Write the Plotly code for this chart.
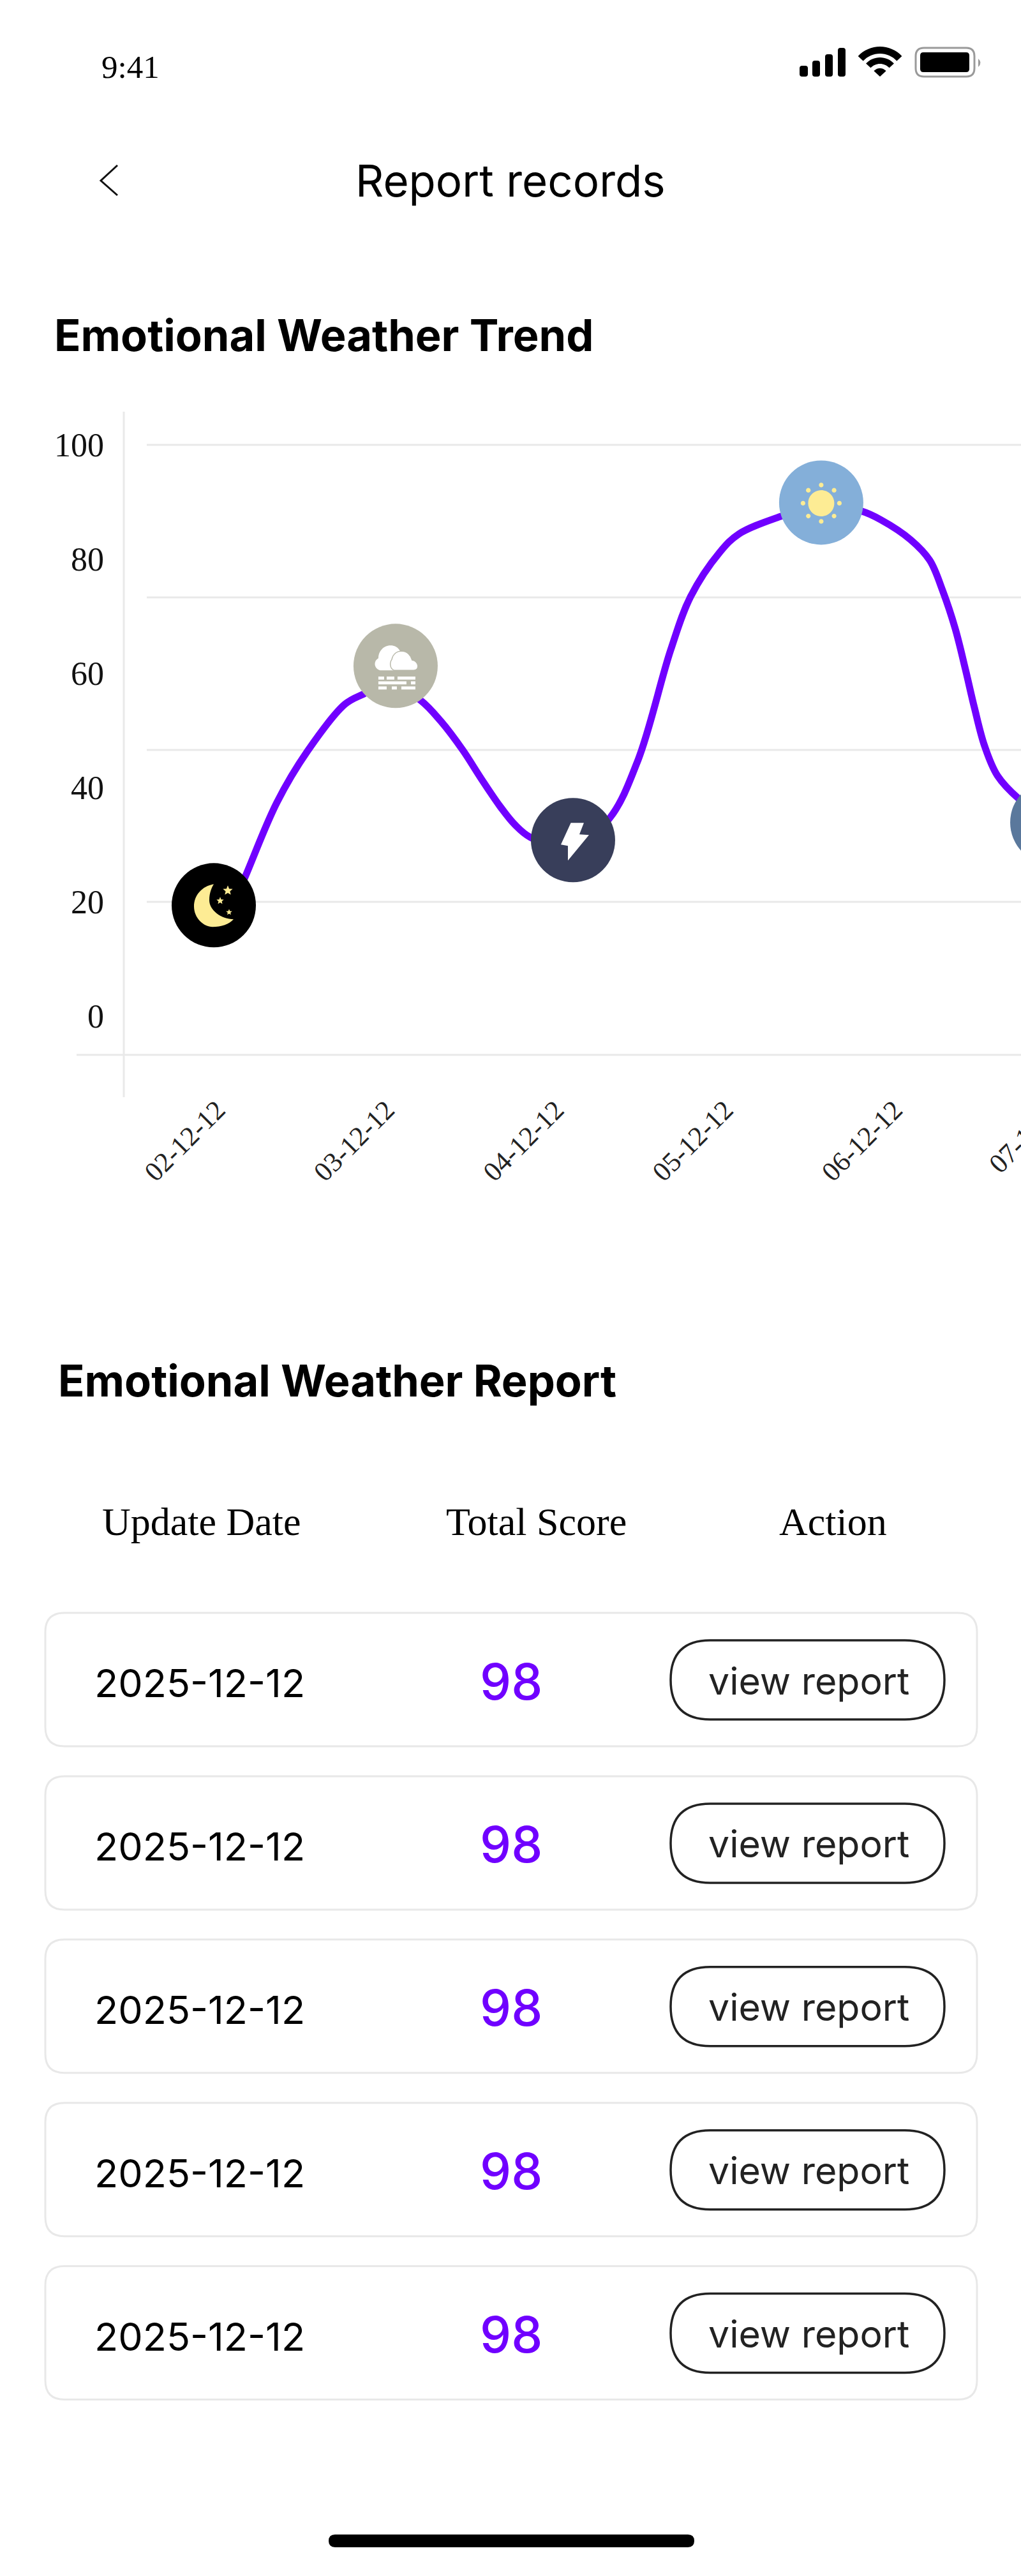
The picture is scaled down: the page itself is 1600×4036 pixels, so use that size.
import math
import plotly.graph_objects as go

W, H = 1600, 4036

# ---------- data ----------
tick_positions = [0.02, 1.02, 2.02, 3.02, 4.02]
tick_labels = ["02-12-12", "03-12-12", "04-12-12", "05-12-12", "06-12-12"]
clipped_tick_label = "07-12-12"
y_ticks = [0, 20, 40, 60, 80, 100]
grid_values = [100, 73.3, 46.6, 20, -6.8]

curve_x = [.08, .19, .373, .554, .775, .886, 1.04, 1.221, 1.342, 1.47, 1.579, 1.689,
           1.779, 1.87, 2.111, 2.337, 2.507, 2.699, 2.816, 2.989, 3.102, 3.351, 3.588,
           3.826, 3.939, 4.116, 4.229, 4.305, 4.38, 4.44, 4.493, 4.553, 4.629, 4.757, 4.953]
curve_y = [17.0, 24.7, 37.4, 46.4, 54.6, 56.4, 58.3, 55.3, 51.6, 46.6, 41.6, 36.8,
           33.5, 31.3, 29.3, 34.6, 44.9, 64.1, 73.4, 81.2, 84.4, 87.5, 89.6,
           88.4, 86.9, 83.4, 79.8, 74.5, 67.8, 60.7, 54.0, 47.3, 42.1, 38.0, 33.9]

marker_x = [0, 1.074, 2.122, 3.588, 4.953]
marker_y = [19.4, 61.3, 30.8, 89.9, 33.9]
marker_colors = ["#000000", "#b8b8a9", "#383e5a", "#84afd9", "#5a789c"]

header_labels = ["Update Date", "Total Score", "Action"]
report_dates = ["2025-12-12"] * 5
report_scores = [98] * 5
report_action = "view report"

# ---------- colours / placement ----------
PURPLE = "#7000ff"
GRID = "#e9e9e9"
MOON = "#fdec94"
UI = "Inter"
SERIF = "Liberation Serif"

px = lambda x: x / W
py = lambda y: 1 - y / H

def P(x, y):
    return f"{px(x):.6f},{py(y):.6f}"

shapes, annotations = [], []

def text(x, y, s, size, family=UI, color="#000000", anchor="left", weight=400):
    annotations.append(dict(x=px(x), y=py(y), xref="paper", yref="paper", text=s, showarrow=False,
                            xanchor=anchor, yanchor="middle", borderpad=0,
                            font=dict(family=family, size=size, color=color, weight=weight)))

def rrect(x0, y0, x1, y1, r):
    return (f"M{P(x0+r,y0)} L{P(x1-r,y0)} Q{P(x1,y0)} {P(x1,y0+r)} L{P(x1,y1-r)} Q{P(x1,y1)} {P(x1-r,y1)} "
            f"L{P(x0+r,y1)} Q{P(x0,y1)} {P(x0,y1-r)} L{P(x0,y0+r)} Q{P(x0,y0)} {P(x0+r,y0)} Z")

def path(d, fill=None, line=None, width=0):
    shapes.append(dict(type="path", path=d, xref="paper", yref="paper",
                       fillcolor=fill or "rgba(0,0,0,0)",
                       line=dict(color=line or "rgba(0,0,0,0)", width=width)))

# ---------- status bar and header ----------
text(158, 105, "9:41", 51, SERIF)
for x0, x1, top in [(1253, 1266, 103), (1273, 1285, 95), (1293, 1305, 85), (1313, 1325, 75)]:
    path(rrect(x0, top, x1, 120, 4), fill="#000000")

def wifi_band(r0, r1, cx=1379, cy=120, half=47):
    a = [math.radians(-90 - half + 2 * half * i / 16) for i in range(17)]
    pts = [(cx + r1 * math.cos(t), cy + r1 * math.sin(t)) for t in a]
    pts += [(cx + r0 * math.cos(t), cy + r0 * math.sin(t)) for t in reversed(a)]
    return "M" + " L".join(P(*p) for p in pts) + " Z"

for r0, r1 in [(36, 47), (20, 30), (0, 13)]:
    path(wifi_band(r0, r1), fill="#000000")
path(rrect(1435, 75, 1527, 120, 13), line="#9a9a9a", width=3)
path(rrect(1442, 82, 1519, 113, 5), fill="#000000")
path(f"M{P(1533,92)} Q{P(1540,98)} {P(1533,105)} Z", fill="#9a9a9a")

path(f"M{P(184,259)} L{P(158,283)} L{P(184,306)}", line="#111111", width=3)
text(800, 283, "Report records", 69, anchor="center")
text(84, 525, "Emotional Weather Trend", 68.5, weight=700)
text(90, 2163, "Emotional Weather Report", 68.5, weight=700)

# ---------- table ----------
for x, s in zip([316, 840, 1305], header_labels):
    text(x, 2384, s, 62, SERIF, anchor="center")
for i, (d, sc) in enumerate(zip(report_dates, report_scores)):
    t = 2527 + i * 255.9
    path(rrect(71, t, 1531, t + 209, 30), line="#e8e8e8", width=3)
    path(rrect(1051, t + 43, 1480, t + 167, 62), line="#222222", width=3.5)
    text(147, t + 110, d, 61)
    text(801, t + 107, str(sc), 78, color=PURPLE, anchor="center", weight=500)
    text(1267, t + 106, report_action, 59, color="#222222", anchor="center")

# home indicator
path(rrect(515, 3971, 1088, 3991, 10), fill="#000000")

# ---------- chart frame ----------
shapes.append(dict(type="line", xref="paper", yref="paper", x0=px(194), x1=px(194), y0=py(645), y1=py(1719),
                   line=dict(color=GRID, width=3), layer="below"))
for i, v in enumerate(grid_values):
    shapes.append(dict(type="line", xref="paper", yref="y", x0=px(230 if v >= 0 else 120), x1=1, y0=v, y1=v,
                       line=dict(color=GRID, width=3), layer="below"))

# ---------- marker glyphs (pixel offsets from each marker, y up) ----------
def glyph(k, d, fill, line=None, width=0):
    shapes.append(dict(type="path", xref="x", yref="y", xsizemode="pixel", ysizemode="pixel",
                       xanchor=marker_x[k], yanchor=marker_y[k], path=d, fillcolor=fill,
                       line=dict(color=line or "rgba(0,0,0,0)", width=width)))

def poly(points):
    return "M" + " L".join(f"{x:.1f},{-y:.1f}" for x, y in points) + " Z"

def curve(*segs):
    out = []
    for s in segs:
        cmd, *pts = s
        out.append(cmd + " ".join(f"{x:.1f},{-y:.1f}" for x, y in pts))
    return " ".join(out) + " Z"

def dot(cx, cy, r):
    k = .5523 * r
    return curve(("M", (cx + r, cy)), ("C", (cx + r, cy + k), (cx + k, cy + r), (cx, cy + r)),
                 ("C", (cx - k, cy + r), (cx - r, cy + k), (cx - r, cy)),
                 ("C", (cx - r, cy - k), (cx - k, cy - r), (cx, cy - r)),
                 ("C", (cx + k, cy - r), (cx + r, cy - k), (cx + r, cy)))

def star(cx, cy, r):
    pts = []
    for i in range(10):
        rad = r if i % 2 == 0 else r * .45
        a = math.radians(-90 + 36 * i)
        pts.append((cx + rad * math.cos(a), cy + rad * math.sin(a)))
    return poly(pts)

# moon
glyph(0, curve(("M", (0, -33)), ("C", (-18, -30), (-31, -16), (-31, 2)), ("C", (-31, 20), (-16, 34), (-2, 34)),
               ("C", (12, 34), (24, 30), (31, 22)), ("C", (12, 22), (-7, 8), (-7, -8)),
               ("C", (-7, -20), (-3, -28), (0, -33))), MOON)
glyph(0, star(22, -23, 8), MOON)
glyph(0, star(10, -7, 6), MOON)
glyph(0, star(24, 11, 5), MOON)

# cloud and fog
glyph(1, curve(("M", (-22, 7)), ("C", (-32, 7), (-37, -6), (-27, -12)), ("C", (-27, -24), (-18, -32), (-8, -32)),
               ("C", (2, -32), (7, -26), (10, -16)), ("L", (10, 7))), "#ffffff")
glyph(1, curve(("M", (-2, 7)), ("C", (-10, 4), (-9, -6), (-6, -10)), ("C", (-4, -20), (4, -24), (10, -23)),
               ("C", (18, -23), (24, -17), (26, -9)), ("C", (36, -8), (39, 7), (28, 7))),
      "#ffffff", line="#b8b8a9", width=1.5)
fog_rows = [(19, [(-27, -18), (-14, -2), (3, 31)]), (26.5, [(-27, 17), (24, 31)]), (34.5, [(-27, -14), (-6, 2), (9, 31)])]
for fy, segs in fog_rows:
    for a, b in segs:
        glyph(1, poly([(a, fy - 2.4), (b, fy - 2.4), (b, fy + 2.4), (a, fy + 2.4)]), "#ffffff")

# bolt
glyph(2, poly([(-3.4, -27), (17, -27), (10, -9), (25, -8), (-8, 32), (-8, 9), (-19, 7)]), "#ffffff")

# sun
glyph(3, dot(0, 1, 20.5), MOON)
for i in range(8):
    a = math.radians(45 * i)
    glyph(3, dot(28.5 * math.cos(a), 1 + 28.5 * math.sin(a), 3.6), MOON)

# last, clipped x label
annotations.append(dict(x=px(1600), y=py(1699), xref="paper", yref="paper", text=clipped_tick_label,
                        showarrow=False, textangle=-45, xanchor="center", yanchor="top", xshift=13,
                        font=dict(family=SERIF, size=43, color="#222222")))

# ---------- figure ----------
fig = go.Figure()
fig.add_trace(go.Scatter(x=curve_x, y=curve_y, mode="lines", hoverinfo="skip",
                         line=dict(color=PURPLE, width=11, shape="spline", smoothing=1.0)))
fig.add_trace(go.Scatter(x=marker_x, y=marker_y, mode="markers",
                         marker=dict(size=132, color=marker_colors, line=dict(width=0), opacity=1)))

fig.update_layout(
    width=W, height=H, showlegend=False, paper_bgcolor="#ffffff", plot_bgcolor="rgba(0,0,0,0)",
    margin=dict(l=0, r=0, t=0, b=0), shapes=shapes, annotations=annotations,
    xaxis=dict(domain=[px(194), 1], range=[(194 - 335) / 265.3, (1600 - 335) / 265.3],
               tickmode="array", tickvals=tick_positions, ticktext=tick_labels, tickangle=-45,
               showgrid=False, zeroline=False, showline=False, ticks="", ticklabelstandoff=-15,
               tickfont=dict(family=SERIF, size=43, color="#222222")),
    yaxis=dict(domain=[py(1719), py(645)], range=[(1592 - 1719) / 8.95, (1592 - 645) / 8.95],
               tickmode="array", tickvals=y_ticks, showgrid=False, zeroline=False, showline=False,
               ticks="", ticklabelstandoff=30,
               tickfont=dict(family=SERIF, size=52, color="#111111")),
)

fig.write_html("out.html", config=dict(displayModeBar=False),
               post_script="document.body.style.margin='0';document.body.style.overflow='hidden';")
